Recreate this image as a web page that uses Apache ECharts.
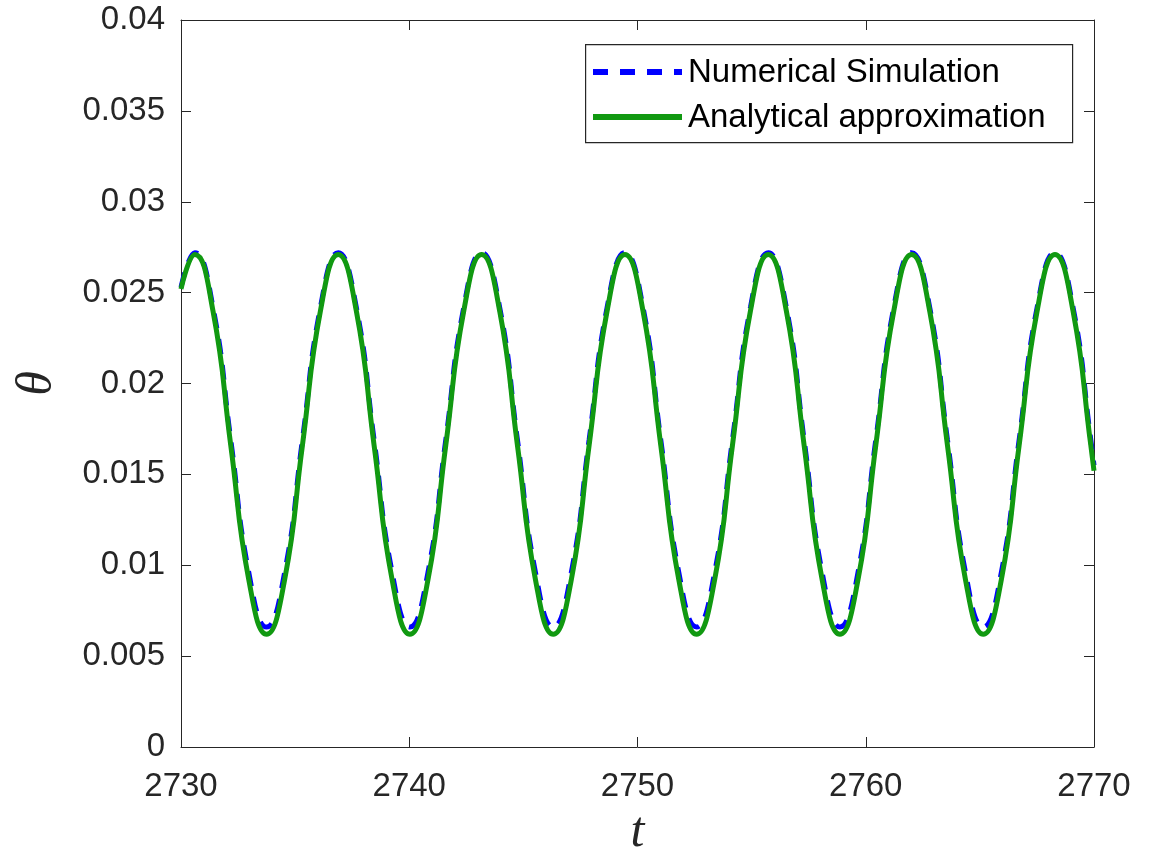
<!DOCTYPE html>
<html>
<head>
<meta charset="utf-8">
<script src="https://cdn.jsdelivr.net/npm/echarts@6/dist/echarts.min.js"></script>
<style>
html,body{margin:0;padding:0;background:#fff;}
#chart{width:1160px;height:850px;}
</style>
</head>
<body>
<div id="chart"></div>
<script>
// ---- data ----
var seriesNames = ['Numerical Simulation', 'Analytical approximation'];
var xTicks = [2730, 2740, 2750, 2760, 2770];
var yTicks = [0, 0.005, 0.01, 0.015, 0.02, 0.025, 0.03, 0.035, 0.04];

var tSample = [
  2730.00, 2730.61, 2731.40, 2732.18, 2732.97, 2733.75, 2734.54, 2735.32, 2736.11,
  2736.89, 2737.68, 2738.46, 2739.25, 2740.03, 2740.82, 2741.60, 2742.39,
  2743.17, 2743.96, 2744.74, 2745.53, 2746.31, 2747.10, 2747.88, 2748.67,
  2749.45, 2750.24, 2751.02, 2751.81, 2752.59, 2753.38, 2754.16, 2754.95,
  2755.73, 2756.52, 2757.30, 2758.09, 2758.87, 2759.66, 2760.44, 2761.23,
  2762.01, 2762.80, 2763.58, 2764.37, 2765.15, 2765.94, 2766.72, 2767.51,
  2768.29, 2769.08, 2769.86, 2770.00
];
var numerical = [
  0.0253, 0.0272, 0.0242, 0.0169, 0.0096, 0.0066, 0.0096, 0.0169, 0.0242,
  0.0272, 0.0242, 0.0169, 0.0096, 0.0066, 0.0096, 0.0169, 0.0242,
  0.0272, 0.0242, 0.0169, 0.0096, 0.0066, 0.0096, 0.0169, 0.0242,
  0.0272, 0.0242, 0.0169, 0.0096, 0.0066, 0.0096, 0.0169, 0.0242,
  0.0272, 0.0242, 0.0169, 0.0096, 0.0066, 0.0096, 0.0169, 0.0242,
  0.0272, 0.0242, 0.0169, 0.0096, 0.0066, 0.0096, 0.0169, 0.0242,
  0.0272, 0.0242, 0.0169, 0.0155
];
var analytical = [
  0.0252, 0.0271, 0.0240, 0.0166, 0.0092, 0.0062, 0.0092, 0.0166, 0.0240,
  0.0271, 0.0240, 0.0166, 0.0092, 0.0062, 0.0092, 0.0166, 0.0240,
  0.0271, 0.0240, 0.0166, 0.0092, 0.0062, 0.0092, 0.0166, 0.0240,
  0.0271, 0.0240, 0.0166, 0.0092, 0.0062, 0.0092, 0.0166, 0.0240,
  0.0271, 0.0240, 0.0166, 0.0092, 0.0062, 0.0092, 0.0166, 0.0240,
  0.0271, 0.0240, 0.0166, 0.0092, 0.0062, 0.0092, 0.0166, 0.0240,
  0.0271, 0.0240, 0.0166, 0.0152
];

function pairs(ts, vs) {
  var out = [];
  for (var i = 0; i < ts.length; i++) out.push([ts[i], vs[i]]);
  return out;
}

var axisColor = '#262626';
var blue = '#0000ff';
var green = '#119911';
var sansFont = '"Liberation Sans", Arial, Helvetica, sans-serif';
var serifFont = '"Liberation Serif", "DejaVu Serif", "Times New Roman", serif';

var xMin = xTicks[0], xMax = xTicks[xTicks.length - 1], xInt = xTicks[1] - xTicks[0];
var yMin = yTicks[0], yMax = yTicks[yTicks.length - 1], yInt = yTicks[1] - yTicks[0];

function yFmt(v) { return String(parseFloat(v.toFixed(4))); }
function xFmt(v) { return String(Math.round(v)); }

var chart = echarts.init(document.getElementById('chart'), null, {renderer: 'canvas'});
var option = {
  backgroundColor: '#ffffff',
  animation: false,
  grid: {left: 181, right: 66, top: 20, bottom: 103, containLabel: false, outerBoundsMode: 'none'},
  xAxis: [
    {
      type: 'value', min: xMin, max: xMax, interval: xInt,
      position: 'bottom',
      name: 't', nameLocation: 'middle', nameGap: 56,
      nameTextStyle: {fontSize: 50, fontStyle: 'italic', fontFamily: serifFont, color: axisColor},
      axisLine: {show: true, onZero: false, lineStyle: {color: axisColor, width: 1}},
      axisTick: {show: true, inside: true, length: 10, lineStyle: {color: axisColor}},
      axisLabel: {fontSize: 33, color: axisColor, fontFamily: sansFont, margin: 23, formatter: xFmt},
      splitLine: {show: false}
    },
    {
      type: 'value', min: xMin, max: xMax, interval: xInt,
      position: 'top',
      axisLine: {show: true, onZero: false, lineStyle: {color: axisColor, width: 1}},
      axisTick: {show: true, inside: true, length: 10, lineStyle: {color: axisColor}},
      axisLabel: {show: false},
      splitLine: {show: false}
    }
  ],
  yAxis: [
    {
      type: 'value', min: yMin, max: yMax, interval: yInt,
      position: 'left',
      name: 'θ', nameLocation: 'middle', nameGap: 118, nameRotate: 90,
      nameTextStyle: {fontSize: 50, fontStyle: 'italic', fontFamily: serifFont, color: axisColor},
      axisLine: {show: true, onZero: false, lineStyle: {color: axisColor, width: 1}},
      axisTick: {show: true, inside: true, length: 10, lineStyle: {color: axisColor}},
      axisLabel: {fontSize: 33, color: axisColor, fontFamily: sansFont, margin: 16, formatter: yFmt},
      splitLine: {show: false}
    },
    {
      type: 'value', min: yMin, max: yMax, interval: yInt,
      position: 'right',
      axisLine: {show: true, onZero: false, lineStyle: {color: axisColor, width: 1}},
      axisTick: {show: true, inside: true, length: 10, lineStyle: {color: axisColor}},
      axisLabel: {show: false},
      splitLine: {show: false}
    }
  ],
  graphic: [
    {
      type: 'rect', left: 585, top: 44, z: 100,
      shape: {width: 487, height: 98},
      style: {fill: '#ffffff', stroke: axisColor, lineWidth: 1.2}
    },
    {
      type: 'line', z: 101,
      shape: {x1: 593, y1: 72, x2: 682, y2: 72},
      style: {stroke: blue, lineWidth: 6, lineDash: [15, 12]}
    },
    {
      type: 'text', left: 688, top: 56, z: 101,
      style: {text: seriesNames[0], fontSize: 33, fontFamily: sansFont, fill: '#000000'}
    },
    {
      type: 'line', z: 101,
      shape: {x1: 593, y1: 117, x2: 682, y2: 117},
      style: {stroke: green, lineWidth: 6}
    },
    {
      type: 'text', left: 688, top: 101, z: 101,
      style: {text: seriesNames[1], fontSize: 33, fontFamily: sansFont, fill: '#000000'}
    }
  ],
  series: [
    {
      name: seriesNames[0],
      type: 'line',
      xAxisIndex: 0, yAxisIndex: 0,
      data: pairs(tSample, numerical),
      smooth: true,
      showSymbol: false,
      symbol: 'none',
      color: blue,
      lineStyle: {color: blue, width: 5, type: [15, 11]},
      z: 2
    },
    {
      name: seriesNames[1],
      type: 'line',
      xAxisIndex: 0, yAxisIndex: 0,
      data: pairs(tSample, analytical),
      smooth: true,
      showSymbol: false,
      symbol: 'none',
      color: green,
      lineStyle: {color: green, width: 5, type: 'solid'},
      z: 3
    }
  ]
};
chart.setOption(option);
</script>
</body>
</html>
